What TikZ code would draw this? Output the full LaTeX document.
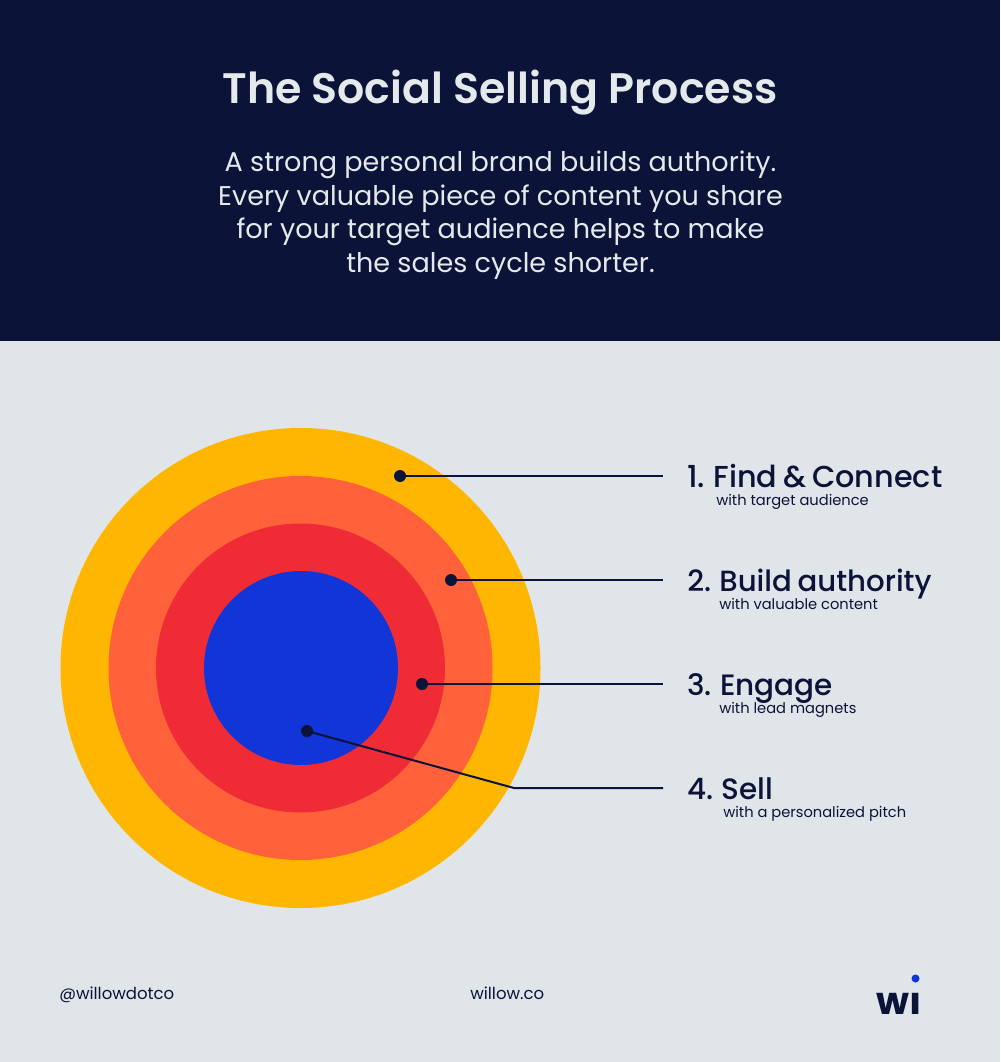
\documentclass[tikz,border=0pt]{standalone}
\usepackage{fontspec}
\setmainfont{Poppins}
\newfontfamily\medfont[WordSpace=0.75]{Poppins Medium}
\newfontfamily\semifont{Poppins SemiBold}
\definecolor{navy}{HTML}{0B1438}
\definecolor{paper}{HTML}{DFE5E8}
\definecolor{ringa}{HTML}{FFB600}
\definecolor{ringb}{HTML}{FF623A}
\definecolor{ringc}{HTML}{EF2B36}
\definecolor{ringd}{HTML}{1135D6}
\definecolor{headtext}{HTML}{E4E9EC}
\tikzset{
 px/.style={x=0.75pt,y=-0.75pt},
 disc/.style={circle,draw=none,inner sep=0pt,minimum size=#1*0.75pt},
 dot/.style={circle,fill=navy,draw=none,inner sep=0pt,minimum size=9pt},
 leader/.style={draw=navy,line width=1.5pt},
 steptitle/.style={anchor=base west,text=navy,font=\medfont\fontsize{#1pt}{26pt}\selectfont,inner sep=0pt},
 stepsub/.style={anchor=base west,text=navy,font=\fontsize{11pt}{13pt}\selectfont,inner sep=0pt},
 foot/.style={anchor=base west,text=navy,font=\fontsize{12.4pt}{14pt}\selectfont,inner sep=0pt},
}
\begin{document}
\begin{tikzpicture}[px]
\useasboundingbox (0,0) rectangle (1000,1062);
\fill[paper] (0,0) rectangle (1000,1062);
\fill[navy] (0,0) rectangle (1000,341);
\node[anchor=base,text=headtext,font=\semifont\fontsize{32pt}{36pt}\selectfont,inner sep=0pt] (title) at (500,104) {The Social Selling Process};
\node[text=headtext,font=\fontsize{20.3pt}{25.1pt}\selectfont,align=center,inner sep=0pt] (intro) at (500.5,215) {A strong personal brand builds authority.\\Every valuable piece of content you share\\for your target audience helps to make\\the sales cycle shorter.};
\node[disc=480,fill=ringa] (d1) at (300.5,668) {};
\node[disc=384,fill=ringb] (d2) at (300.5,668) {};
\node[disc=289,fill=ringc] (d3) at (300.5,668) {};
\node[disc=194,fill=ringd] (d4) at (301,668) {};
\node[dot] (p1) at (400,476) {};
\node[dot] (p2) at (451,580) {};
\node[dot] (p3) at (422,684) {};
\node[dot] (p4) at (307,731) {};
\coordinate (e1) at (663,476);
\coordinate (e2) at (663,580);
\coordinate (e3) at (663,684);
\coordinate (e4) at (663,788);
\coordinate (k4) at (514,788);
\draw[leader] (p1.center) -- (e1);
\draw[leader] (p2.center) -- (e2);
\draw[leader] (p3.center) -- (e3);
\draw[leader] (p4.center) -- (k4) -- (e4);
\node[steptitle=22.7] (t1) at (687,487) {1. Find \& Connect};
\node[stepsub] (s1) at (716,505) {with target audience};
\node[steptitle=21.9] (t2) at (687,591) {2. Build authority};
\node[stepsub] (s2) at (719,609) {with valuable content};
\node[steptitle=22.1] (t3) at (687,695) {3. Engage};
\node[stepsub] (s3) at (719,713) {with lead magnets};
\node[steptitle=22.1] (t4) at (687,799) {4. Sell};
\node[stepsub] (s4) at (723,817) {with a personalized pitch};
\node[foot] (f1) at (59,999) {@willowdotco};
\node[foot] (f2) at (470,999) {willow.co};
\node[anchor=base,text=navy,font=\fontsize{28.5pt}{30pt}\selectfont\bfseries,inner sep=0pt] (logo) at (899.5,1014.5) {wı};
\node[circle,fill=ringd,draw=none,inner sep=0pt,minimum size=6pt] (logodot) at (915.5,978.5) {};
\end{tikzpicture}
\end{document}
